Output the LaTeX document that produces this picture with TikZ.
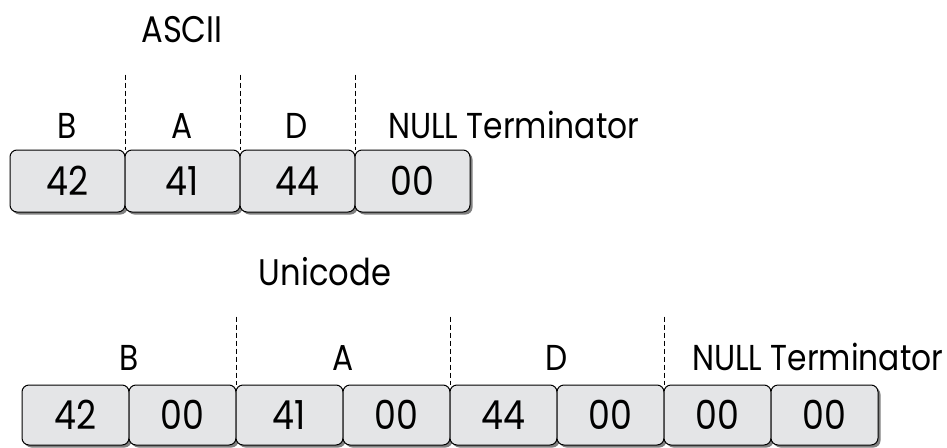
\documentclass[tikz,border=0pt]{standalone}
\usepackage{fontspec}
\setmainfont{Poppins}[FakeStretch=0.87]
\usetikzlibrary{shadows}
\definecolor{cellfill}{HTML}{E4E5E7}
\definecolor{cellshadow}{HTML}{808080}
\begin{document}
\begin{tikzpicture}[x=1pt,y=-1pt,
  cell/.style={draw=black, line width=1pt, fill=cellfill, rounded corners=7pt,
    inner sep=0pt, font=\fontsize{40}{44}\selectfont,
    drop shadow={shadow xshift=2.5pt, shadow yshift=-2.5pt, fill=cellshadow, opacity=1}},
  bytecell/.style={cell, minimum width=115pt, minimum height=62pt},
  widecell/.style={cell, minimum width=107pt, minimum height=60pt},
  label/.style={anchor=base, inner sep=0pt, font=\fontsize{36}{40}\selectfont},
  title/.style={anchor=base, inner sep=0pt, font=\fontsize{37}{40}\selectfont},
  sep/.style={line width=1.5pt, dash pattern=on 5pt off 3pt}]
\useasboundingbox (0,0) rectangle (947,447);

% ASCII string: one byte per character
\node[title] (ascii) at (182,42) {ASCII};
\foreach \v [count=\i] in {42,41,44,00}
  \node[bytecell] (a\i) at ({10+57.5+115*(\i-1)},181) {\v};
\node[label] (aB) at (67,138) {B};
\node[label] (aA) at (182,138) {A};
\node[label] (aD) at (297,138) {D};
\node[label, anchor=base west] (aN) at (388,138) {NULL Terminator};
\foreach \i in {1,2,3} {
  \coordinate (at\i) at ([yshift=75pt]a\i.north east);
  \draw[sep] (at\i) -- (a\i.north east);
}

% Unicode string: two bytes per character
\node[title] (uni) at (325,285) {Unicode};
\foreach \v [count=\i] in {42,00,41,00,44,00,00,00}
  \node[widecell] (u\i) at ({22+53.5+107*(\i-1)},415) {\v};
\node[label] (uB) at (129,370) {B};
\node[label] (uA) at (343,370) {A};
\node[label] (uD) at (557,370) {D};
\node[label, anchor=base west] (uN) at (692,370) {NULL Terminator};
\foreach \i in {2,4,6} {
  \coordinate (ut\i) at ([yshift=68pt]u\i.north east);
  \draw[sep] (ut\i) -- (u\i.north east);
}
\end{tikzpicture}
\end{document}
